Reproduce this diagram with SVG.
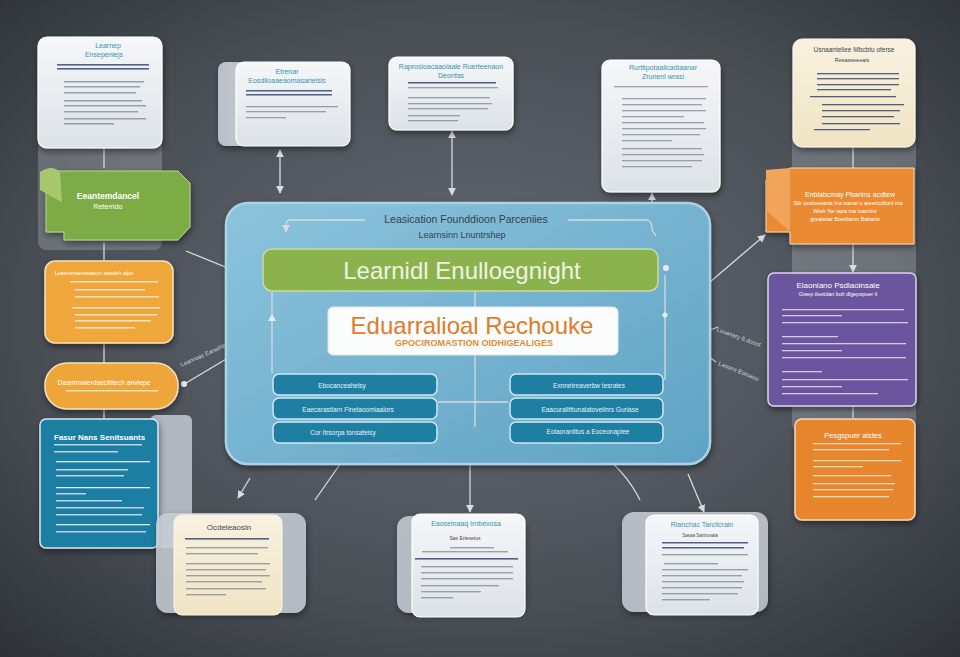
<svg xmlns="http://www.w3.org/2000/svg" width="960" height="657" viewBox="0 0 960 657">
<defs>
<radialGradient id="bg" cx="0.5" cy="0.48" r="0.75">
<stop offset="0" stop-color="#646a72"/><stop offset="0.6" stop-color="#4a4f56"/><stop offset="1" stop-color="#2b2f35"/>
</radialGradient>
<linearGradient id="panel" x1="0" y1="0" x2="1" y2="1">
<stop offset="0" stop-color="#8cc3dc"/><stop offset="1" stop-color="#5fa3c4"/>
</linearGradient>
<linearGradient id="card" x1="0" y1="0" x2="0" y2="1">
<stop offset="0" stop-color="#f5f7f9"/><stop offset="1" stop-color="#dde2e7"/>
</linearGradient>
<linearGradient id="cream" x1="0" y1="0" x2="0" y2="1">
<stop offset="0" stop-color="#f8f1df"/><stop offset="1" stop-color="#f0e4c4"/>
</linearGradient>
<linearGradient id="side" x1="0" y1="0" x2="1" y2="0">
<stop offset="0" stop-color="#b9c0c8"/><stop offset="1" stop-color="#e3e7eb"/>
</linearGradient>
<filter id="sh" x="-20%" y="-20%" width="140%" height="140%">
<feDropShadow dx="1" dy="3" stdDeviation="3" flood-color="#000" flood-opacity="0.45"/>
</filter>
<marker id="ah" viewBox="0 0 10 10" refX="9" refY="5" markerWidth="6" markerHeight="6" orient="auto-start-reverse">
<path d="M0,0 L10,5 L0,10 Z" fill="#d8dde2"/>
</marker>
<style>
.ttl{font-family:"Liberation Sans",Arial,sans-serif;text-anchor:middle}
.tc{fill:#3a93ad;font-size:7px}
.dk{fill:#3b4552}
.wt{fill:#ffffff}
.ln{fill:#7d8793;opacity:0.75}
.lb{fill:#2c3b6e;opacity:0.8}
.lw{fill:#ffffff;opacity:0.7}
.con{stroke:#d6dbe0;stroke-width:1.3;fill:none}
.bar{fill:#1f7fa3;stroke:#cfe6f0;stroke-width:1.5}
.bt{font-family:"Liberation Sans",Arial,sans-serif;font-size:6.5px;fill:#e6f2f7;text-anchor:middle}
.cardw{fill:url(#card);stroke:#ffffff;stroke-width:1.2}
.back{fill:#c9cfd6;opacity:0.85}
</style>
</defs>
<rect width="960" height="657" fill="url(#bg)"/>

<!-- background columns -->
<rect x="38" y="40" width="124" height="210" rx="8" fill="#c8cdd3" opacity="0.28"/>
<rect x="792" y="40" width="124" height="392" rx="8" fill="#c8cdd3" opacity="0.28"/>

<g id="connectors">
<line class="con" x1="104" y1="148" x2="104" y2="168"/>
<line class="con" x1="104" y1="242" x2="104" y2="260"/>
<line class="con" x1="104" y1="343" x2="104" y2="363"/>
<line class="con" x1="104" y1="409" x2="104" y2="418"/>
<line class="con" x1="853" y1="147" x2="853" y2="168"/>
<line class="con" x1="853" y1="244" x2="853" y2="272" marker-end="url(#ah)"/>
<line class="con" x1="853" y1="406" x2="853" y2="418"/>
<line class="con" x1="280" y1="150" x2="280" y2="193" marker-start="url(#ah)" marker-end="url(#ah)"/>
<line class="con" x1="452" y1="131" x2="452" y2="195" marker-start="url(#ah)" marker-end="url(#ah)"/>
<line class="con" x1="652" y1="203" x2="652" y2="193" marker-end="url(#ah)"/>
<path class="con" d="M186,251 L228,268 L250,266"/>
<circle cx="252" cy="265" r="3" fill="#e8ecf0"/>
<path class="con" d="M268,334 L186,383"/>
<circle cx="184" cy="384" r="3" fill="#e8ecf0"/>
<line class="con" x1="710" y1="282" x2="765" y2="235" marker-end="url(#ah)"/>
<line class="con" x1="710" y1="330" x2="718" y2="327"/>
<line class="con" x1="708" y1="356" x2="716" y2="362"/>
<line class="con" x1="350" y1="450" x2="315" y2="500"/>
<line class="con" x1="250" y1="478" x2="238" y2="498" marker-end="url(#ah)"/>
<line class="con" x1="470" y1="465" x2="470" y2="512" marker-end="url(#ah)"/>
<path class="con" d="M596,450 Q625,470 640,500"/>
<line class="con" x1="688" y1="474" x2="704" y2="512" marker-end="url(#ah)"/>
<text class="ttl" x="206" y="356" font-size="6" fill="#c9d3dc" transform="rotate(-24 206 356)">Leanroas Eanethbis</text>
<text class="ttl" x="738" y="339" font-size="6" fill="#c9d3dc" transform="rotate(20 738 339)">Lsuanary 8.dooot</text>
<text class="ttl" x="738" y="373" font-size="6" fill="#c9d3dc" transform="rotate(22 738 373)">Lasons Eotsauu</text>
</g>

<g id="center-panel">
<rect x="226" y="203" width="484" height="261" rx="22" fill="url(#panel)" stroke="#a9d2e5" stroke-width="2.5" filter="url(#sh)"/>
<text class="ttl" x="466" y="223" font-size="10.5" fill="#33414f">Leasication Founddioon Parceniies</text>
<text class="ttl" x="462" y="238" font-size="9" fill="#33414f">Learnsinn Lnuntrshep</text>
<path class="con" d="M365,220 L290,220 Q286,220 286,226 L286,232" marker-end="url(#ah)"/>
<path class="con" d="M568,220 L648,220 Q652,222 652,230 L656,236"/>
<path class="con" d="M272,292 L272,373"/>
<path d="M268,321 L272,314 L276,321 Z" fill="#e8ecf0"/>
<path class="con" d="M665,275 L665,380"/>
<circle cx="665" cy="315" r="2.5" fill="#e8ecf0"/>
<circle cx="666" cy="268" r="3" fill="#e8ecf0"/>
<line class="con" x1="475" y1="291" x2="475" y2="307"/>
<line class="con" x1="475" y1="355" x2="475" y2="427"/>
<line class="con" x1="438" y1="402" x2="508" y2="402"/>
</g>

<g id="learning-bar">
<rect x="263" y="249" width="395" height="42" rx="9" fill="#8bb24c" stroke="#c7dca0" stroke-width="1.5"/>
<text class="ttl" x="462" y="279" font-size="24" fill="#eef4e6">Learnidl Enulloegnight</text>
</g>

<g id="resource-box">
<rect x="328" y="307" width="290" height="48" rx="5" fill="#fbfcfc" stroke="#e2e8ec" stroke-width="1"/>
<text class="ttl" x="472" y="334" font-size="24" fill="#e07b2b">Eduarralioal Rechouke</text>
<text class="ttl" x="474" y="346" font-size="9" font-weight="bold" fill="#e48a37">GPOCIROMASTION OIDHIGEALIGES</text>
</g>

<g id="left-bars">
<rect class="bar" x="273" y="374" width="164" height="21" rx="6"/>
<rect class="bar" x="273" y="398" width="164" height="21" rx="6"/>
<rect class="bar" x="273" y="422" width="164" height="21" rx="6"/>
<text class="bt" x="342" y="388">Ebocanceahelsy</text>
<text class="bt" x="348" y="412">Eaecarastiarn Finelaoomiaalors</text>
<text class="bt" x="343" y="435">Cor Itrsorpa tonsafeisy</text>
</g>
<g id="right-bars">
<rect class="bar" x="510" y="374" width="153" height="21" rx="6"/>
<rect class="bar" x="510" y="398" width="153" height="21" rx="6"/>
<rect class="bar" x="510" y="422" width="153" height="21" rx="6"/>
<text class="bt" x="589" y="388">Exnnetreaverbw tesrates</text>
<text class="bt" x="590" y="412">Eaacuralitttunalatoveiinrs Guriase</text>
<text class="bt" x="588" y="434">Eolaoraniltus a Eoceonaplee</text>
</g>

<g id="card-top-left">
<rect x="38" y="37" width="124" height="111" rx="9" class="cardw" filter="url(#sh)"/>
<text class="ttl tc" x="108" y="48">Learnep</text>
<text class="ttl tc" x="104" y="57">Ensepenlejs</text>
<rect class="lb" x="57" y="64" width="92" height="1.6"/>
<rect class="lb" x="57" y="68" width="92" height="1.6"/>
<rect class="ln" x="64" y="81" width="80" height="1.5"/>
<rect class="ln" x="64" y="86" width="76" height="1.5"/>
<rect class="ln" x="64" y="92" width="72" height="1.5"/>
<rect class="ln" x="64" y="100" width="78" height="1.5"/>
<rect class="ln" x="64" y="105" width="82" height="1.5"/>
<rect class="ln" x="64" y="111" width="74" height="1.5"/>
<rect class="ln" x="64" y="118" width="82" height="1.5"/>
<rect class="ln" x="64" y="123" width="50" height="1.5"/>
</g>

<g id="tag-green">
<path d="M46,171 L178,171 L190,183 L190,227 L178,240 L64,240 L64,232 L46,232 Z" fill="#7dab44" stroke="#b9d48e" stroke-width="1" filter="url(#sh)"/>
<path d="M40,172 Q52,164 60,172 L62,202 Q50,196 40,190 Z" fill="#a6c76e"/>
<text class="ttl wt" x="108" y="199" font-size="8.5" font-weight="bold">Eeantemdancel</text>
<text class="ttl wt" x="108" y="209" font-size="7">Reterrido</text>
</g>

<g id="box-orange-left">
<rect x="45" y="261" width="128" height="82" rx="10" fill="#efa63b" stroke="#f5e2bd" stroke-width="1.5" filter="url(#sh)"/>
<text class="ttl wt" x="94" y="275" font-size="5.5">Leasnenaewsatecn sasdeh alpe</text>
<rect class="lw" x="70" y="281" width="88" height="1.5"/>
<rect class="lw" x="75" y="289" width="70" height="1.5"/>
<rect class="lw" x="75" y="296" width="84" height="1.5"/>
<rect class="lw" x="72" y="307" width="88" height="1.5"/>
<rect class="lw" x="75" y="314" width="82" height="1.5"/>
<rect class="lw" x="75" y="320" width="76" height="1.5"/>
<rect class="lw" x="75" y="327" width="60" height="1.5"/>
</g>

<g id="pill-orange">
<rect x="45" y="363" width="133" height="46" rx="22" fill="#eea63b" stroke="#f5e2bd" stroke-width="1.5" filter="url(#sh)"/>
<text class="ttl wt" x="104" y="385" font-size="6.8">Daamrowerdsecititech anviepe</text>
<rect class="lw" x="66" y="390" width="92" height="1.4"/>
</g>

<g id="box-teal">
<rect x="150" y="415" width="42" height="133" rx="6" fill="#c2c9d1" opacity="0.85"/>
<rect x="40" y="419" width="118" height="129" rx="6" fill="#1e7ea3" stroke="#d6e6ee" stroke-width="1.5" filter="url(#sh)"/>
<text x="54" y="440" font-family="Liberation Sans, Arial, sans-serif" font-size="8" font-weight="bold" fill="#ffffff">Fasur Nans Senitsuants</text>
<rect class="lw" x="54" y="444" width="88" height="1.5"/>
<rect class="lw" x="54" y="451" width="64" height="1.5"/>
<rect fill="#d8ecf4" x="56" y="461" width="94" height="1.3"/>
<rect class="lw" x="56" y="469" width="72" height="1.5"/>
<rect class="lw" x="56" y="475" width="68" height="1.5"/>
<rect fill="#d8ecf4" x="56" y="487" width="94" height="1.3"/>
<rect class="lw" x="56" y="493" width="30" height="1.5"/>
<rect class="lw" x="56" y="500" width="66" height="1.5"/>
<rect class="lw" x="56" y="507" width="88" height="1.5"/>
<rect class="lw" x="56" y="514" width="86" height="1.5"/>
<rect fill="#d8ecf4" x="56" y="524" width="94" height="1.3"/>
<rect class="lw" x="56" y="531" width="90" height="1.5"/>
</g>

<g id="card-bottom-left">
<rect x="156" y="513" width="150" height="100" rx="12" class="back" filter="url(#sh)"/>
<rect x="174" y="515" width="108" height="100" rx="8" fill="url(#cream)" stroke="#fbf6ea" stroke-width="1"/>
<text class="ttl dk" x="229" y="530" font-size="8">Ocdeleaosin</text>
<rect class="lb" x="185" y="538" width="84" height="1.6" opacity="0.55"/>
<rect class="ln" x="186" y="547" width="82" height="1.4"/>
<rect class="ln" x="186" y="553" width="72" height="1.4"/>
<rect class="ln" x="186" y="563" width="84" height="1.4"/>
<rect class="ln" x="186" y="569" width="80" height="1.4"/>
<rect class="ln" x="186" y="575" width="84" height="1.4"/>
<rect class="ln" x="186" y="581" width="76" height="1.4"/>
<rect class="ln" x="186" y="588" width="80" height="1.4"/>
<rect class="ln" x="186" y="594" width="40" height="1.4"/>
</g>

<g id="card-bottom-center">
<rect x="397" y="516" width="128" height="97" rx="12" class="back" filter="url(#sh)"/>
<rect x="412" y="514" width="113" height="103" rx="8" class="cardw"/>
<text class="ttl tc" x="466" y="526">Eaoseinaaq Irnbevosa</text>
<text class="ttl dk" x="465" y="540" font-size="5">Sas Ertesetus</text>
<rect class="ln" x="450" y="547" width="44" height="1.4"/>
<rect class="ln" x="422" y="551" width="86" height="1.4"/>
<rect class="lb" x="415" y="558" width="103" height="1.6"/>
<rect class="ln" x="421" y="566" width="92" height="1.4"/>
<rect class="ln" x="421" y="572" width="92" height="1.4"/>
<rect class="ln" x="421" y="578" width="92" height="1.4"/>
<rect class="ln" x="421" y="585" width="78" height="1.4"/>
<rect class="ln" x="421" y="591" width="60" height="1.4"/>
<rect class="ln" x="421" y="597" width="32" height="1.4"/>
</g>

<g id="card-bottom-right">
<rect x="622" y="512" width="146" height="100" rx="12" class="back" filter="url(#sh)"/>
<rect x="646" y="515" width="112" height="100" rx="8" class="cardw"/>
<text class="ttl tc" x="702" y="527">Rianchac Tarcilcrain</text>
<text class="ttl dk" x="700" y="537" font-size="4.5">Sasaa Sarinusaia</text>
<rect class="lb" x="662" y="542" width="86" height="1.5"/>
<rect class="lb" x="662" y="547" width="82" height="1.5"/>
<rect class="ln" x="662" y="554" width="86" height="1.4"/>
<rect class="ln" x="664" y="563" width="54" height="1.4"/>
<rect class="ln" x="662" y="569" width="86" height="1.4"/>
<rect class="ln" x="662" y="575" width="80" height="1.4"/>
<rect class="ln" x="662" y="581" width="82" height="1.4"/>
<rect class="ln" x="662" y="587" width="80" height="1.4"/>
<rect class="ln" x="662" y="593" width="76" height="1.4"/>
<rect class="ln" x="662" y="599" width="48" height="1.4"/>
</g>

<g id="card-top-center-left">
<rect x="218" y="62" width="132" height="84" rx="8" fill="url(#side)" filter="url(#sh)"/>
<rect x="236" y="62" width="114" height="84" rx="8" class="cardw"/>
<text class="ttl tc" x="287" y="74" font-size="6">Etrenar</text>
<text class="ttl tc" x="287" y="83">Eosdlloaaeaomasarielsls</text>
<rect class="lb" x="246" y="90" width="86" height="1.5"/>
<rect class="lb" x="246" y="94" width="86" height="1.5"/>
<rect class="ln" x="246" y="106" width="92" height="1.3"/>
<rect class="ln" x="246" y="111" width="80" height="1.3"/>
<rect class="ln" x="246" y="117" width="40" height="1.3"/>
</g>

<g id="card-top-center">
<rect x="389" y="57" width="124" height="73" rx="8" class="cardw" filter="url(#sh)"/>
<text class="ttl tc" x="451" y="69" font-size="6.5">Raprosioacaaoiaale Ruerteenaon</text>
<text class="ttl tc" x="451" y="78" font-size="6">Deonfas</text>
<rect class="lb" x="408" y="82" width="88" height="1.5"/>
<rect class="ln" x="408" y="87" width="90" height="1.3"/>
<rect class="ln" x="408" y="97" width="82" height="1.3"/>
<rect class="ln" x="408" y="103" width="84" height="1.3"/>
<rect class="ln" x="408" y="108" width="80" height="1.3"/>
<rect class="ln" x="408" y="115" width="52" height="1.3"/>
<rect class="ln" x="408" y="120" width="50" height="1.3"/>
</g>

<g id="card-top-right">
<rect x="602" y="60" width="118" height="132" rx="8" class="cardw" filter="url(#sh)"/>
<text class="ttl tc" x="663" y="70" font-size="6.5">Rurttipotaalicadiaanar</text>
<text class="ttl tc" x="663" y="79" font-size="6">Zrunenl wrasi</text>
<rect class="ln" x="614" y="86" width="94" height="1.3"/>
<rect class="ln" x="622" y="98" width="84" height="1.3"/>
<rect class="ln" x="622" y="104" width="80" height="1.3"/>
<rect class="ln" x="622" y="110" width="84" height="1.3"/>
<rect class="ln" x="622" y="116" width="62" height="1.3"/>
<rect class="ln" x="622" y="122" width="82" height="1.3"/>
<rect class="ln" x="622" y="128" width="84" height="1.3"/>
<rect class="ln" x="622" y="134" width="78" height="1.3"/>
<rect class="ln" x="622" y="140" width="50" height="1.3"/>
<rect class="ln" x="622" y="148" width="80" height="1.3"/>
<rect class="ln" x="622" y="154" width="82" height="1.3"/>
<rect class="ln" x="622" y="160" width="80" height="1.3"/>
<rect class="ln" x="622" y="166" width="70" height="1.3"/>
</g>

<g id="card-right-cream">
<rect x="793" y="39" width="122" height="108" rx="9" fill="url(#cream)" stroke="#fbf6ea" stroke-width="1" filter="url(#sh)"/>
<text class="ttl dk" x="854" y="52" font-size="6.5">Usnaanteliee Mbcbtu oferse</text>
<text class="ttl dk" x="852" y="62" font-size="5.5">Resasseeeais</text>
<rect class="lb" x="817" y="73" width="82" height="1.3" opacity="0.55"/>
<rect class="lb" x="817" y="78" width="82" height="1.3" opacity="0.55"/>
<rect class="lb" x="817" y="84" width="82" height="1.3" opacity="0.55"/>
<rect class="lb" x="817" y="89" width="74" height="1.3" opacity="0.55"/>
<rect class="lb" x="810" y="96" width="86" height="1.3" opacity="0.55"/>
<rect class="lb" x="822" y="104" width="82" height="1.3" opacity="0.55"/>
<rect class="lb" x="822" y="110" width="78" height="1.3" opacity="0.55"/>
<rect class="lb" x="822" y="116" width="72" height="1.3" opacity="0.55"/>
<rect class="lb" x="822" y="123" width="78" height="1.3" opacity="0.55"/>
<rect class="lb" x="814" y="129" width="56" height="1.3" opacity="0.55"/>
</g>

<g id="tag-orange-right">
<path d="M790,168 L914,168 L914,244 L790,244 L790,232 L766,232 L766,180 Z" fill="#ea8a30" stroke="#f6d7b4" stroke-width="1" filter="url(#sh)"/>
<path d="M766,170 L790,168 L790,232 L766,210 Z" fill="#f2a45a"/>
<text class="ttl wt" x="850" y="197" font-size="7">Enblabcmay Pbanins acdtew</text>
<text class="ttl wt" x="848" y="205" font-size="5.5">Stlr oealoeoanis lna wanat u ateericdlionl ma</text>
<text class="ttl wt" x="845" y="213" font-size="5.5">Wtelr Ne rapa ma inamiinr</text>
<text class="ttl wt" x="845" y="221" font-size="5.5">greatwiar Boeidanm Babarts</text>
</g>

<g id="box-purple">
<rect x="768" y="273" width="148" height="133" rx="6" fill="#6a549e" stroke="#d9d3ea" stroke-width="1.5" filter="url(#sh)"/>
<text class="ttl wt" x="838" y="288" font-size="8">Elaoniano Psdlaoinsaie</text>
<text class="ttl wt" x="838" y="296" font-size="5.5">Gwep tleotdan boli dlgepspuer li</text>
<rect class="lw" x="782" y="309" width="122" height="1.3"/>
<rect class="lw" x="782" y="315" width="60" height="1.3"/>
<rect class="lw" x="782" y="322" width="126" height="1.3"/>
<rect class="lw" x="782" y="336" width="56" height="1.3"/>
<rect class="lw" x="782" y="343" width="124" height="1.3"/>
<rect class="lw" x="782" y="350" width="60" height="1.3"/>
<rect class="lw" x="782" y="357" width="124" height="1.3"/>
<rect class="lw" x="782" y="371" width="40" height="1.3"/>
<rect class="lw" x="782" y="379" width="126" height="1.3"/>
<rect class="lw" x="782" y="386" width="60" height="1.3"/>
<rect class="lw" x="782" y="393" width="96" height="1.3"/>
</g>

<g id="box-orange-right">
<rect x="795" y="419" width="120" height="101" rx="7" fill="#e8862e" stroke="#f6d7b4" stroke-width="1.5" filter="url(#sh)"/>
<text class="ttl wt" x="853" y="438" font-size="7.5">Pesgspuer aistes</text>
<rect class="lw" x="813" y="443" width="88" height="1.3"/>
<rect class="lw" x="813" y="449" width="76" height="1.3"/>
<rect class="lw" x="813" y="460" width="88" height="1.3"/>
<rect class="lw" x="813" y="466" width="50" height="1.3"/>
<rect class="lw" x="813" y="475" width="78" height="1.3"/>
<rect class="lw" x="813" y="483" width="82" height="1.3"/>
<rect class="lw" x="813" y="489" width="80" height="1.3"/>
<rect class="lw" x="813" y="496" width="76" height="1.3"/>
</g>
</svg>
